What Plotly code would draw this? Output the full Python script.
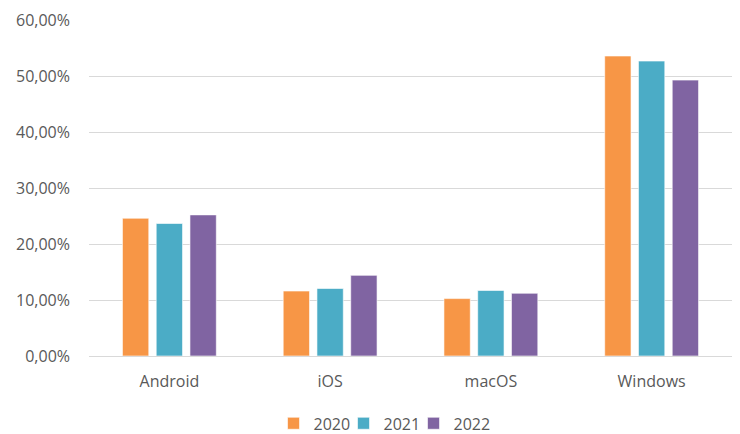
import plotly.graph_objects as go

categories = ["Android", "iOS", "macOS", "Windows"]
series_names = ["2020", "2021", "2022"]
v2020 = [0.2460, 0.1160, 0.1025, 0.5357]
v2021 = [0.2366, 0.1205, 0.1170, 0.5267]
v2022 = [0.2520, 0.1440, 0.1120, 0.4927]
colors = ["#F79646", "#4BACC6", "#8064A2"]
y_ticks = [0, 0.1, 0.2, 0.3, 0.4, 0.5, 0.6]

fig = go.Figure()
for name, vals, c in zip(series_names, [v2020, v2021, v2022], colors):
    fig.add_trace(go.Bar(
        x=categories, y=vals, name=name,
        marker=dict(color=c, line=dict(color="rgba(255,255,255,0.6)", width=1)),
    ))
# empty, invisible legend spacer so the last legend label is not clipped
fig.add_trace(go.Scatter(x=[None], y=[None], mode="markers", name=" ",
                         marker=dict(color="rgba(0,0,0,0)", size=1,
                                     line=dict(width=0, color="rgba(0,0,0,0)")),
                         hoverinfo="skip"))

# page body has an 8px default margin; figure is sized to fill the rest of the window
fig.update_layout(
    width=732, height=426,
    margin=dict(l=81, r=8, t=12, b=78, autoexpand=False),
    paper_bgcolor="white", plot_bgcolor="white",
    separators=",.",
    barmode="group", bargap=0.37, bargroupgap=0.22,
    font=dict(family="Open Sans, Liberation Sans, sans-serif", size=16, color="#595959"),
    legend=dict(orientation="h", xref="container", yref="container",
                x=0.554, xanchor="center", y=0.025, yanchor="middle",
                font=dict(size=16, color="#595959"),
                entrywidth=25, entrywidthmode="pixels", traceorder="normal"),
    showlegend=True,
)
fig.update_yaxes(range=[0, 0.6], tickvals=y_ticks, tickformat=".2%",
                 showgrid=True, gridcolor="#D9D9D9", gridwidth=1,
                 zeroline=False, showline=False, ticks="", ticklabelstandoff=18,
                 tickfont=dict(size=16, color="#595959"))
fig.update_xaxes(showline=True, linecolor="#D9D9D9", linewidth=1, ticks="",
                 ticklabelstandoff=11,
                 tickfont=dict(size=16, color="#595959"))

fig.write_html("out.html")
